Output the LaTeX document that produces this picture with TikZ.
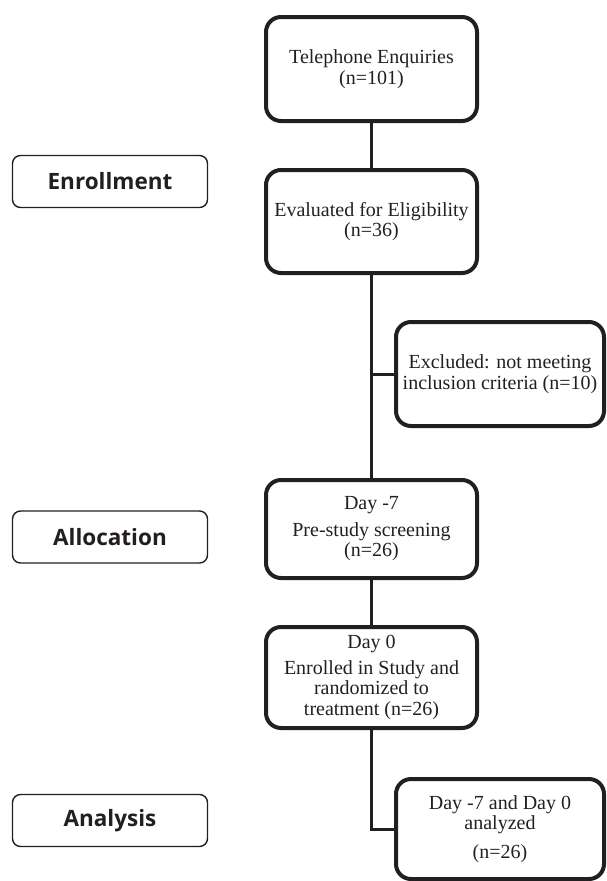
\documentclass[tikz,border=0pt]{standalone}
\usepackage{fontspec}
\setmainfont{Liberation Serif}
\newfontfamily\labfont{Open Sans}
\definecolor{ink}{HTML}{231F20}
\begin{document}
\begin{tikzpicture}[x=1pt,y=-1pt,
  flowbox/.style={draw=ink, line width=4pt, rounded corners=15pt, align=center,
    font=\fontsize{20}{20.5}\selectfont, text=ink, inner sep=0pt},
  phasebox/.style={draw=ink, line width=1.4pt, rounded corners=8pt,
    minimum width=195pt, minimum height=52pt, inner sep=0pt,
    font=\labfont\bfseries\fontsize{22.5}{24}\selectfont, text=ink},
  link/.style={draw=ink, line width=3pt}]
\useasboundingbox (0,0) rectangle (607,881);
% main column
\node[flowbox, minimum width=211pt, minimum height=104pt] (tel) at (371.5,69)
  {Telephone Enquiries\\(n=101)};
\node[flowbox, minimum width=211pt, minimum height=103pt] (elig) at (371.5,221.5)
  {Evaluated for Eligibility\\(n=36)};
\node[flowbox, minimum width=208pt, minimum height=104pt] (excl) at (500,374)
  {Excluded: not meeting\\inclusion criteria (n=10)};
\node[flowbox, minimum width=211pt, minimum height=98pt] (day7) at (371.5,529)
  {Day -7\\[6pt]Pre-study screening\\(n=26)};
\node[flowbox, minimum width=211pt, minimum height=101pt] (day0) at (371.5,677.5)
  {Day 0\\[5pt]Enrolled in Study and\\randomized to\\treatment (n=26)};
\node[flowbox, minimum width=208pt, minimum height=100pt] (anal) at (500,829)
  {Day -7 and Day 0\\analyzed\\[8pt](n=26)};
% phase labels
\node[phasebox] (enr) at (110,181.5) {Enrollment};
\node[phasebox] (alloc) at (110,537) {Allocation};
\node[phasebox] (ana) at (110,820.5) {Analysis};
% connectors
\draw[link] (tel.south) -- (elig.north);
\draw[link] (elig.south) -- (day7.north);
\draw[link] (elig.south |- excl.west) -- (excl.west);
\draw[link] (day7.south) -- (day0.north);
\draw[link] (day0.south) |- (anal.west);
\end{tikzpicture}
\end{document}
